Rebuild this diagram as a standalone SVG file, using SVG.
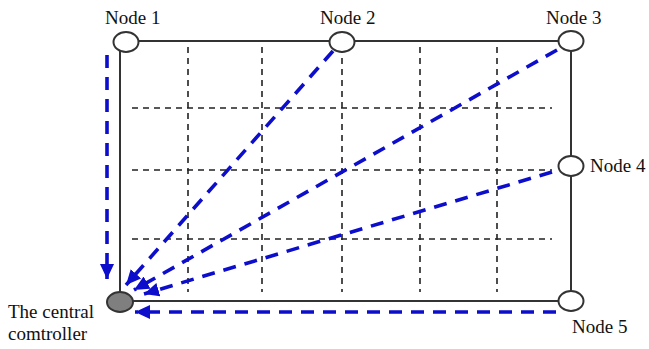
<svg xmlns="http://www.w3.org/2000/svg" width="649" height="349" viewBox="0 0 649 349">
<style>
.lbl{font-family:'Liberation Serif','Times New Roman','DejaVu Serif',serif;font-size:19px;fill:#111}
.frame{fill:none;stroke:#333;stroke-width:2}
.grid{fill:none;stroke:#222;stroke-width:1.6;stroke-dasharray:6 5}
.node{fill:#fff;stroke:#333;stroke-width:2}
.ctrl{fill:#7f7f7f;stroke:#333;stroke-width:2}
.flow{fill:none;stroke:#0d0dcc;stroke-width:3.6;stroke-dasharray:13 9;marker-end:url(#ah)}
</style>
<defs>
<marker id="ah" markerUnits="userSpaceOnUse" markerWidth="16" markerHeight="14" refX="15" refY="7" orient="auto">
<path d="M0,0 L15,7 L0,14 Z" fill="#0d0dcc"/>
</marker>
</defs>
<rect width="649" height="349" fill="#fff"/>
<g id="grid">
<path class="grid" d="M188,47V292M262,47V292M342,47V292M420,47V292M497,47V292"/>
<path class="grid" d="M132,108H552M132,170H552M132,239H552"/>
</g>
<g id="frame">
<path class="frame" d="M120,41H571V301H120Z"/>
</g>
<g id="connectors">
<path class="flow" d="M107,55V279"/>
<path class="flow" d="M333,51L126,285"/>
<path class="flow" d="M557,50L134,290"/>
<path class="flow" d="M552,172L144,294"/>
<path class="flow" d="M556,312H135"/>
</g>
<g id="node1"><ellipse class="node" cx="126" cy="42" rx="12.5" ry="10"/><text class="lbl" x="105" y="24">Node 1</text></g>
<g id="node2"><ellipse class="node" cx="342" cy="42" rx="12.5" ry="10"/><text class="lbl" x="320" y="24">Node 2</text></g>
<g id="node3"><ellipse class="node" cx="571" cy="41" rx="12.5" ry="10"/><text class="lbl" x="546" y="24">Node 3</text></g>
<g id="node4"><ellipse class="node" cx="571" cy="166" rx="12.5" ry="10"/><text class="lbl" x="590" y="172">Node 4</text></g>
<g id="node5"><ellipse class="node" cx="571" cy="301" rx="12.5" ry="10"/><text class="lbl" x="572" y="333">Node 5</text></g>
<g id="controller"><ellipse class="ctrl" cx="120" cy="302" rx="13" ry="10"/><text class="lbl" x="8" y="318">The central</text><text class="lbl" x="8" y="340">comtroller</text></g>
</svg>
